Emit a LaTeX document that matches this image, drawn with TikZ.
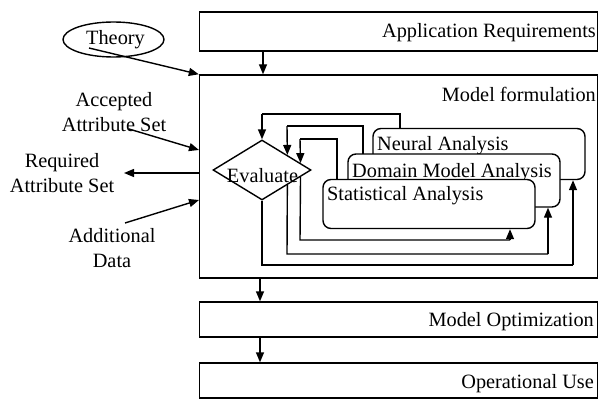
\documentclass[tikz,border=0pt]{standalone}
\usepackage{fontspec}
\setmainfont{Liberation Serif}
\usetikzlibrary{arrows.meta,shapes.geometric,calc}
\begin{document}
\begin{tikzpicture}[x=1pt,y=-1pt,
  txt/.style={font=\fontsize{20.3}{25}\selectfont,inner sep=0pt},
  stage/.style={draw,line width=1.4pt,inner sep=0pt,fill=white},
  method/.style={draw,line width=1.4pt,rounded corners=8pt,fill=white,inner sep=0pt,
    minimum width=212pt},
  flow/.style={line width=1.4pt,-{Triangle[length=10pt,width=8pt]}},
  link/.style={line width=1.4pt}]
\useasboundingbox (0,0) rectangle (601,401);

% stage boxes
\node[stage,minimum width=398pt,minimum height=39pt] (app) at (398.5,31.5) {};
\node[stage,minimum width=398pt,minimum height=203pt] (mf) at (398.5,176.5) {};
\node[stage,minimum width=398pt,minimum height=35pt] (mo) at (398.5,319.5) {};
\node[stage,minimum width=398pt,minimum height=35pt] (op) at (398.5,380.5) {};

\node[txt,anchor=base east] (appT) at (596,38) {Application Requirements};
\node[txt,anchor=base east] (mfT) at (596,102) {Model formulation};
\node[txt,anchor=base east] (moT) at (594,326) {Model Optimization};
\node[txt,anchor=base east] (opT) at (594,388) {Operational Use};

% stage-to-stage arrows
\draw[flow] (app.south -| 263,0) -- (mf.north -| 263,0);
\draw[flow] (mf.south -| 260,0) -- (mo.north -| 260,0);
\draw[flow] (mo.south -| 260,0) -- (op.north -| 260,0);

% external inputs and outputs
\node[draw,ellipse,line width=1.4pt,minimum width=101pt,minimum height=35pt,inner sep=0pt] (theory) at (113.5,39.5) {};
\node[txt,anchor=base] (theoryT) at (115.5,45) {Theory};
\node[txt,align=center] (acc) at (114,112) {Accepted\\Attribute Set};
\node[txt,align=center] (req) at (62,173) {Required\\Attribute Set};
\node[txt,align=center] (add) at (112,248) {Additional\\Data};

\coordinate (thS) at (89,48);
\coordinate (accS) at (129,129);
\coordinate (accE) at (199,150);
\coordinate (reqS) at (199,173);
\coordinate (reqE) at (124,173);
\coordinate (addS) at (125,223);
\coordinate (addE) at (199,200);
\draw[flow] (thS) -- (mf.north west);
\draw[flow] (accS) -- (accE);
\draw[flow] (reqS) -- (reqE);
\draw[flow] (addS) -- (addE);

% evaluation diamond
\node[draw,diamond,line width=1.4pt,minimum width=98pt,minimum height=60pt,inner sep=0pt,aspect=1.63] (eval) at (262,170) {};

% feedback loops (drawn before the analysis boxes)
\coordinate (nUp) at (400,114);
\coordinate (nL) at (262,114);
\coordinate (nD) at (262,265);
\coordinate (nR) at (573,265);
\draw[link] (400,128) -- (nUp) -- (nL);
\draw[flow] (nL) -- (eval.north);
\draw[link] (eval.south) -- (nD) -- (nR);

\coordinate (dUp) at (363,126);
\coordinate (dL) at (287,126);
\coordinate (dD) at (287,254);
\coordinate (dR) at (548,254);
\draw[link] (363,155) -- (dUp) -- (dL);
\draw[flow] (dL) -- ($(eval.north)!0.51!(eval.east)$);
\draw[link] ($(eval.south)!0.51!(eval.east)$) -- (dD) -- (dR);

\coordinate (sUp) at (337,139);
\coordinate (sL) at (300,139);
\coordinate (sD) at (300,240);
\coordinate (sR) at (510,240);
\draw[link] (337,180) -- (sUp) -- (sL);
\draw[flow] (sL) -- ($(eval.north)!0.775!(eval.east)$);
\draw[link] ($(eval.south)!0.775!(eval.east)$) -- (sD) -- (sR);

\node[txt,anchor=base] (evalT) at (262.5,182) {Evaluate};

% analysis methods, stacked back to front
\node[method,minimum height=51pt] (neural) at (479,154) {};
\node[txt,anchor=base west] (neuralT) at (377,150) {Neural Analysis};
\node[method,minimum height=53pt] (domain) at (454,180.5) {};
\node[txt,anchor=base west] (domainT) at (352,177) {Domain Model Analysis};
\node[method,minimum height=49pt] (stat) at (429,204) {};
\node[txt,anchor=base west] (statT) at (327,200) {Statistical Analysis};

% returns into the methods
\draw[flow] (nR) -- (neural.south -| nR);
\draw[flow] (dR) -- (domain.south -| dR);
\draw[flow] (sR) -- (stat.south -| sR);
\end{tikzpicture}
\end{document}
